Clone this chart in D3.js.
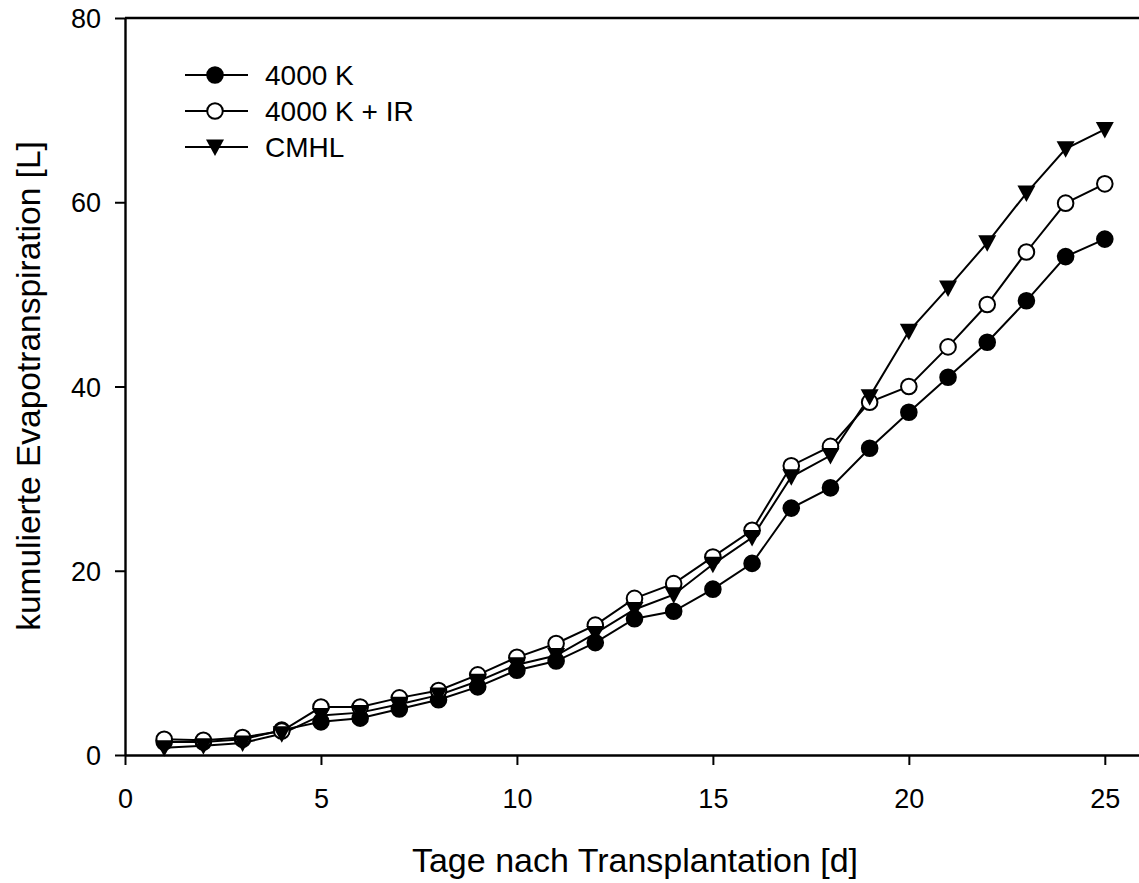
<!DOCTYPE html>
<html>
<head>
<meta charset="utf-8">
<script src="https://cdn.jsdelivr.net/npm/d3@7"></script>
<style>
  body { margin: 0; background: #fff; }
  text { font-family: "Liberation Sans", Arial, sans-serif; }
</style>
</head>
<body>
<div id="chart"></div>
<script>
    // days after transplantation
    var days = [1,2,3,4,5,6,7,8,9,10,11,12,13,14,15,16,17,18,19,20,21,22,23,24,25];

    var k4000 = [1.4,1.4,1.7,2.7,3.6,4.0,5.0,6.0,7.4,9.2,10.2,12.2,14.8,15.6,18.0,20.8,26.8,29.0,33.3,37.2,41.0,44.8,49.3,54.1,56.0];
    var k4000ir = [1.7,1.6,1.9,2.6,5.2,5.2,6.2,7.0,8.7,10.6,12.1,14.1,17.0,18.6,21.5,24.4,31.4,33.5,38.3,40.0,44.3,48.9,54.6,59.9,62.0];
    var cmhl = [0.8,1.0,1.3,2.3,4.3,4.6,5.5,6.5,8.0,9.8,10.8,13.2,15.8,17.4,20.7,23.6,30.2,32.5,38.9,46.0,50.7,55.6,61.0,65.8,67.9];

    var seriesNames = ['4000 K', '4000 K + IR', 'CMHL'];
    var xTicks = [0,5,10,15,20,25];
    var yTicks = [0,20,40,60,80];

    var width = 1139,
        height = 883,
        plotLeft = 125,
        plotTop = 18,
        plotBottom = 755,
        plotRight = 1144;

    var x = d3.scaleLinear()
        .domain([0, 26])
        .range([plotLeft, plotRight]);

    var y = d3.scaleLinear()
        .domain([0, 80])
        .range([plotBottom, plotTop]);

    var svg = d3.select("#chart").append("svg")
        .attr("width", width)
        .attr("height", height);

    var series = [
        {name: seriesNames[0], values: k4000, symbol: 'filled'},
        {name: seriesNames[1], values: k4000ir, symbol: 'open'},
        {name: seriesNames[2], values: cmhl, symbol: 'triangle'}
    ];

    var line = d3.line()
        .x(function(d) { return x(d[0]); })
        .y(function(d) { return y(d[1]); });

    function drawSymbol(g, type) {
        if (type === 'triangle') {
            g.append("path")
                .attr("d", "M-9,-7.5 L9,-7.5 L0,9 Z")
                .attr("fill", "#000");
        } else {
            g.append("circle")
                .attr("r", 7.8)
                .attr("fill", type === 'filled' ? "#000" : "#fff")
                .attr("stroke", "#000")
                .attr("stroke-width", 2);
        }
    }

    // lines first, then markers on top
    series.forEach(function(s) {
        var pts = days.map(function(d, i) { return [d, s.values[i]]; });
        svg.append("path")
            .datum(pts)
            .attr("d", line)
            .attr("fill", "none")
            .attr("stroke", "#000")
            .attr("stroke-width", 2);
    });

    series.forEach(function(s) {
        var pts = days.map(function(d, i) { return [d, s.values[i]]; });
        svg.append("g").selectAll("g")
            .data(pts)
          .enter().append("g")
            .attr("transform", function(d) { return "translate(" + x(d[0]) + "," + y(d[1]) + ")"; })
            .each(function() { drawSymbol(d3.select(this), s.symbol); });
    });

    // top frame line
    svg.append("line")
        .attr("x1", plotLeft).attr("x2", plotRight)
        .attr("y1", plotTop).attr("y2", plotTop)
        .attr("stroke", "#000").attr("stroke-width", 2.4);

    // axes
    var xAxis = svg.append("g")
        .attr("transform", "translate(0," + plotBottom + ")")
        .call(d3.axisBottom(x).tickValues(xTicks).tickSize(10).tickPadding(24).tickSizeOuter(0));

    var yAxis = svg.append("g")
        .attr("transform", "translate(" + plotLeft + ",0)")
        .call(d3.axisLeft(y).tickValues(yTicks).tickSize(10).tickPadding(14).tickSizeOuter(0));

    [xAxis, yAxis].forEach(function(a) {
        a.select(".domain").attr("stroke-width", 2.4);
        a.selectAll(".tick line").attr("stroke-width", 2);
        a.selectAll(".tick text")
            .attr("font-size", "27px")
            .attr("fill", "#000")
            .style("font-family", "'Liberation Sans', Arial, sans-serif");
    });
    yAxis.selectAll(".tick text").attr("dy", "0.36em");

    svg.append("text")
        .attr("x", 635)
        .attr("y", 872)
        .attr("text-anchor", "middle")
        .attr("font-size", "34px")
        .text("Tage nach Transplantation [d]");

    svg.append("text")
        .attr("transform", "translate(40," + 386 + ") rotate(-90)")
        .attr("text-anchor", "middle")
        .attr("font-size", "33.5px")
        .text("kumulierte Evapotranspiration [L]");

    // legend
    var legend = svg.append("g");
    series.forEach(function(s, i) {
        var row = legend.append("g")
            .attr("transform", "translate(0," + (75 + i * 36) + ")");
        row.append("line")
            .attr("x1", 185).attr("x2", 248)
            .attr("stroke", "#000").attr("stroke-width", 2);
        var m = row.append("g").attr("transform", "translate(215,0)");
        drawSymbol(m, s.symbol);
        row.append("text")
            .attr("x", 265)
            .attr("dy", "0.36em")
            .attr("font-size", "28px")
            .text(s.name);
    });
</script>
</body>
</html>
